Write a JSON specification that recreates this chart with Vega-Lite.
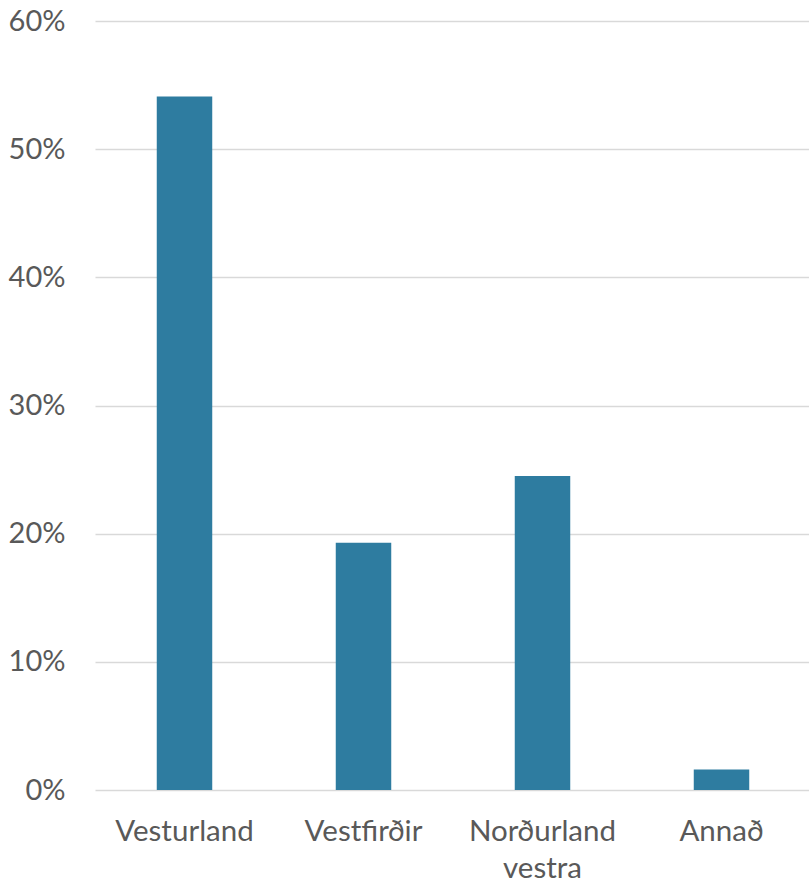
{
  "$schema": "https://vega.github.io/schema/vega-lite/v6.json",
  "autosize": {"type": "none"},
  "padding": {"left": 95, "top": 21, "right": 0, "bottom": 96},
  "width": 716,
  "height": 769,
  "background": "white",
  "data": {"values": [
    {"region": "Vesturland", "share": 0.541},
    {"region": "Vestfirðir", "share": 0.193},
    {"region": "Norðurland vestra", "share": 0.245},
    {"region": "Annað", "share": 0.016}
  ]},
  "mark": {"type": "bar", "color": "#2E7CA0"},
  "encoding": {
    "x": {
      "field": "region", "type": "nominal", "sort": null,
      "scale": {"paddingInner": 0.69, "paddingOuter": 0.345},
      "axis": {
        "title": null, "labelAngle": 0, "domain": false, "ticks": false,
        "labelFont": "Lato", "labelFontSize": 29.5, "labelColor": "#595959",
        "labelPadding": 27, "labelLineHeight": 37,
        "labelExpr": "datum.label == 'Norðurland vestra' ? ['Norðurland', 'vestra'] : datum.label"
      }
    },
    "y": {
      "field": "share", "type": "quantitative",
      "scale": {"domain": [0, 0.6]},
      "axis": {
        "title": null, "format": ".0%", "values": [0, 0.1, 0.2, 0.3, 0.4, 0.5, 0.6],
        "domain": false, "ticks": false, "gridColor": "#D9D9D9", "gridWidth": 1.3,
        "labelFont": "Lato", "labelFontSize": 29, "labelColor": "#595959",
        "labelPadding": 30
      }
    }
  },
  "config": {"view": {"stroke": null}}
}
